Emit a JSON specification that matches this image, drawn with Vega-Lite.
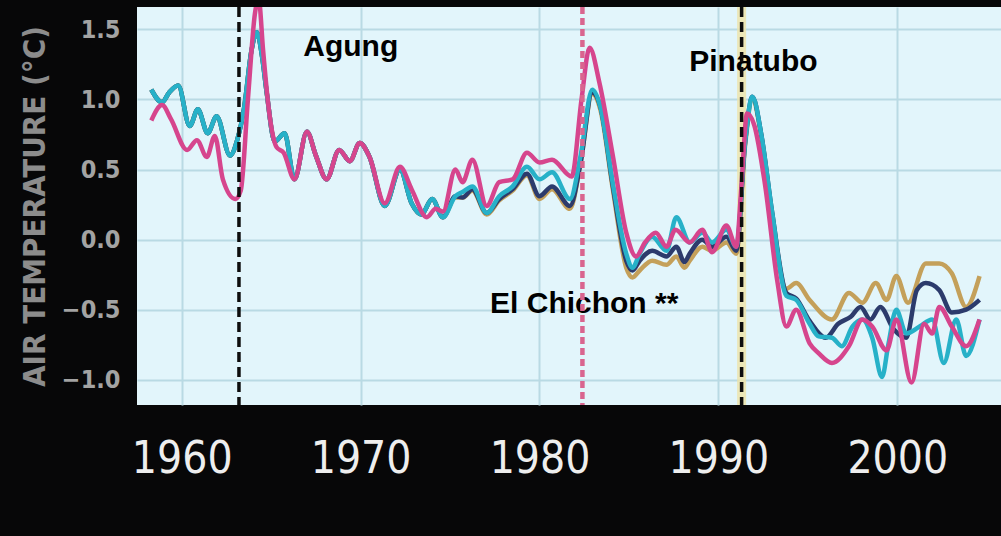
{
  "$schema": "https://vega.github.io/schema/vega-lite/v6.json",
  "width": 864,
  "height": 398,
  "autosize": {"type": "none"},
  "padding": {"left": 137, "top": 7, "right": 0, "bottom": 131},
  "background": "#070708",
  "view": {"fill": "#e2f5fb", "stroke": null},
  "config": {
    "axis": {"domain": false, "ticks": false, "grid": true, "gridColor": "#b9dae4", "gridWidth": 2, "gridOpacity": 1},
    "axisX": {"labelColor": "#eeeeee", "labelFont": "DejaVu Sans Condensed", "labelFontSize": 44, "labelPadding": 32, "labelFlush": false, "labelDx": -5},
    "axisY": {"labelColor": "#a3a3a3", "labelFont": "DejaVu Sans Condensed", "labelFontSize": 25, "labelFontWeight": "bold", "labelPadding": 17, "titleColor": "#8c8c8c", "titleFont": "DejaVu Sans Condensed", "titleFontSize": 31, "titleFontWeight": "bold", "titlePadding": 10}
  },
  "datasets": {
    "events": [
      {"volcano": "Agung", "year": 1963.2},
      {"volcano": "El Chichon", "year": 1982.4},
      {"volcano": "Pinatubo", "year": 1991.3}
    ],
    "notes": [
      {"label": "Agung", "year": 1969.45, "anomaly": 1.31},
      {"label": "Pinatubo", "year": 1991.96, "anomaly": 1.2},
      {"label": "El Chichon **", "year": 1982.5, "anomaly": -0.52}
    ],
    "temps": [
      {"series": "gold", "year": 1958.3, "anomaly": 1.07},
      {"series": "gold", "year": 1958.9, "anomaly": 0.98},
      {"series": "gold", "year": 1959.3, "anomaly": 1.05},
      {"series": "gold", "year": 1959.8, "anomaly": 1.1},
      {"series": "gold", "year": 1960.45, "anomaly": 0.81},
      {"series": "gold", "year": 1960.9, "anomaly": 0.93},
      {"series": "gold", "year": 1961.45, "anomaly": 0.76},
      {"series": "gold", "year": 1961.95, "anomaly": 0.88},
      {"series": "gold", "year": 1962.7, "anomaly": 0.6},
      {"series": "gold", "year": 1963.1, "anomaly": 0.71},
      {"series": "gold", "year": 1963.5, "anomaly": 0.95},
      {"series": "gold", "year": 1963.9, "anomaly": 1.35},
      {"series": "gold", "year": 1964.2, "anomaly": 1.48},
      {"series": "gold", "year": 1964.5, "anomaly": 1.3},
      {"series": "gold", "year": 1964.75, "anomaly": 1.05},
      {"series": "gold", "year": 1965.2, "anomaly": 0.7},
      {"series": "gold", "year": 1965.75, "anomaly": 0.76},
      {"series": "gold", "year": 1966.3, "anomaly": 0.43},
      {"series": "gold", "year": 1967.0, "anomaly": 0.77},
      {"series": "gold", "year": 1967.5, "anomaly": 0.6},
      {"series": "gold", "year": 1968.1, "anomaly": 0.43},
      {"series": "gold", "year": 1968.8, "anomaly": 0.64},
      {"series": "gold", "year": 1969.4, "anomaly": 0.56},
      {"series": "gold", "year": 1969.95, "anomaly": 0.69},
      {"series": "gold", "year": 1970.5, "anomaly": 0.59},
      {"series": "gold", "year": 1971.35, "anomaly": 0.24},
      {"series": "gold", "year": 1972.2, "anomaly": 0.5},
      {"series": "gold", "year": 1972.85, "anomaly": 0.26},
      {"series": "gold", "year": 1973.4, "anomaly": 0.18},
      {"series": "gold", "year": 1974.0, "anomaly": 0.29},
      {"series": "gold", "year": 1974.6, "anomaly": 0.16},
      {"series": "gold", "year": 1975.3, "anomaly": 0.3},
      {"series": "gold", "year": 1975.7, "anomaly": 0.3},
      {"series": "gold", "year": 1976.25, "anomaly": 0.35},
      {"series": "gold", "year": 1977.05, "anomaly": 0.18},
      {"series": "gold", "year": 1977.75, "anomaly": 0.28},
      {"series": "gold", "year": 1978.5, "anomaly": 0.35},
      {"series": "gold", "year": 1979.3, "anomaly": 0.46},
      {"series": "gold", "year": 1980.0, "anomaly": 0.29},
      {"series": "gold", "year": 1980.7, "anomaly": 0.36},
      {"series": "gold", "year": 1981.7, "anomaly": 0.22},
      {"series": "gold", "year": 1982.3, "anomaly": 0.55},
      {"series": "gold", "year": 1982.95, "anomaly": 1.04},
      {"series": "gold", "year": 1983.4, "anomaly": 0.93},
      {"series": "gold", "year": 1984.1, "anomaly": 0.36},
      {"series": "gold", "year": 1984.85, "anomaly": -0.2},
      {"series": "gold", "year": 1985.2, "anomaly": -0.27},
      {"series": "gold", "year": 1985.6, "anomaly": -0.22},
      {"series": "gold", "year": 1986.3, "anomaly": -0.15},
      {"series": "gold", "year": 1987.1, "anomaly": -0.18},
      {"series": "gold", "year": 1987.65, "anomaly": -0.12},
      {"series": "gold", "year": 1988.1, "anomaly": -0.2},
      {"series": "gold", "year": 1988.4, "anomaly": -0.15},
      {"series": "gold", "year": 1989.1, "anomaly": -0.05},
      {"series": "gold", "year": 1989.65, "anomaly": -0.08},
      {"series": "gold", "year": 1990.45, "anomaly": -0.02},
      {"series": "gold", "year": 1991.0, "anomaly": -0.1},
      {"series": "gold", "year": 1991.5, "anomaly": 0.68},
      {"series": "gold", "year": 1991.9, "anomaly": 1.0},
      {"series": "gold", "year": 1992.4, "anomaly": 0.74},
      {"series": "gold", "year": 1993.0, "anomaly": 0.18},
      {"series": "gold", "year": 1993.8, "anomaly": -0.35},
      {"series": "gold", "year": 1994.35, "anomaly": -0.31},
      {"series": "gold", "year": 1995.1, "anomaly": -0.43},
      {"series": "gold", "year": 1996.35, "anomaly": -0.57},
      {"series": "gold", "year": 1997.3, "anomaly": -0.38},
      {"series": "gold", "year": 1998.05, "anomaly": -0.45},
      {"series": "gold", "year": 1998.8, "anomaly": -0.31},
      {"series": "gold", "year": 1999.4, "anomaly": -0.43},
      {"series": "gold", "year": 1999.95, "anomaly": -0.26},
      {"series": "gold", "year": 2000.6, "anomaly": -0.45},
      {"series": "gold", "year": 2001.6, "anomaly": -0.17},
      {"series": "gold", "year": 2002.35, "anomaly": -0.17},
      {"series": "gold", "year": 2003.05, "anomaly": -0.24},
      {"series": "gold", "year": 2003.85, "anomaly": -0.48},
      {"series": "gold", "year": 2004.6, "anomaly": -0.26},

      {"series": "navy", "year": 1958.3, "anomaly": 1.07},
      {"series": "navy", "year": 1958.9, "anomaly": 0.98},
      {"series": "navy", "year": 1959.3, "anomaly": 1.05},
      {"series": "navy", "year": 1959.8, "anomaly": 1.1},
      {"series": "navy", "year": 1960.45, "anomaly": 0.81},
      {"series": "navy", "year": 1960.9, "anomaly": 0.93},
      {"series": "navy", "year": 1961.45, "anomaly": 0.76},
      {"series": "navy", "year": 1961.95, "anomaly": 0.88},
      {"series": "navy", "year": 1962.7, "anomaly": 0.6},
      {"series": "navy", "year": 1963.1, "anomaly": 0.71},
      {"series": "navy", "year": 1963.5, "anomaly": 0.95},
      {"series": "navy", "year": 1963.9, "anomaly": 1.35},
      {"series": "navy", "year": 1964.2, "anomaly": 1.48},
      {"series": "navy", "year": 1964.5, "anomaly": 1.3},
      {"series": "navy", "year": 1964.75, "anomaly": 1.05},
      {"series": "navy", "year": 1965.2, "anomaly": 0.7},
      {"series": "navy", "year": 1965.75, "anomaly": 0.76},
      {"series": "navy", "year": 1966.3, "anomaly": 0.43},
      {"series": "navy", "year": 1967.0, "anomaly": 0.77},
      {"series": "navy", "year": 1967.5, "anomaly": 0.6},
      {"series": "navy", "year": 1968.1, "anomaly": 0.43},
      {"series": "navy", "year": 1968.8, "anomaly": 0.64},
      {"series": "navy", "year": 1969.4, "anomaly": 0.56},
      {"series": "navy", "year": 1969.95, "anomaly": 0.69},
      {"series": "navy", "year": 1970.5, "anomaly": 0.59},
      {"series": "navy", "year": 1971.35, "anomaly": 0.24},
      {"series": "navy", "year": 1972.2, "anomaly": 0.5},
      {"series": "navy", "year": 1972.85, "anomaly": 0.26},
      {"series": "navy", "year": 1973.4, "anomaly": 0.18},
      {"series": "navy", "year": 1974.0, "anomaly": 0.29},
      {"series": "navy", "year": 1974.6, "anomaly": 0.16},
      {"series": "navy", "year": 1975.3, "anomaly": 0.31},
      {"series": "navy", "year": 1975.7, "anomaly": 0.3},
      {"series": "navy", "year": 1976.25, "anomaly": 0.36},
      {"series": "navy", "year": 1977.05, "anomaly": 0.19},
      {"series": "navy", "year": 1977.75, "anomaly": 0.29},
      {"series": "navy", "year": 1978.5, "anomaly": 0.36},
      {"series": "navy", "year": 1979.3, "anomaly": 0.47},
      {"series": "navy", "year": 1980.0, "anomaly": 0.31},
      {"series": "navy", "year": 1980.7, "anomaly": 0.38},
      {"series": "navy", "year": 1981.7, "anomaly": 0.24},
      {"series": "navy", "year": 1982.3, "anomaly": 0.55},
      {"series": "navy", "year": 1982.95, "anomaly": 1.05},
      {"series": "navy", "year": 1983.4, "anomaly": 0.95},
      {"series": "navy", "year": 1984.1, "anomaly": 0.38},
      {"series": "navy", "year": 1984.85, "anomaly": -0.15},
      {"series": "navy", "year": 1985.2, "anomaly": -0.22},
      {"series": "navy", "year": 1985.6, "anomaly": -0.15},
      {"series": "navy", "year": 1986.3, "anomaly": -0.08},
      {"series": "navy", "year": 1987.1, "anomaly": -0.12},
      {"series": "navy", "year": 1987.65, "anomaly": -0.05},
      {"series": "navy", "year": 1988.1, "anomaly": -0.16},
      {"series": "navy", "year": 1988.4, "anomaly": -0.1},
      {"series": "navy", "year": 1989.1, "anomaly": 0.0},
      {"series": "navy", "year": 1989.65, "anomaly": -0.05},
      {"series": "navy", "year": 1990.45, "anomaly": 0.02},
      {"series": "navy", "year": 1991.0, "anomaly": -0.08},
      {"series": "navy", "year": 1991.5, "anomaly": 0.7},
      {"series": "navy", "year": 1991.9, "anomaly": 1.02},
      {"series": "navy", "year": 1992.4, "anomaly": 0.75},
      {"series": "navy", "year": 1993.0, "anomaly": 0.2},
      {"series": "navy", "year": 1993.8, "anomaly": -0.38},
      {"series": "navy", "year": 1994.35, "anomaly": -0.42},
      {"series": "navy", "year": 1995.1, "anomaly": -0.58},
      {"series": "navy", "year": 1996.0, "anomaly": -0.7},
      {"series": "navy", "year": 1996.7, "anomaly": -0.6},
      {"series": "navy", "year": 1997.4, "anomaly": -0.55},
      {"series": "navy", "year": 1997.95, "anomaly": -0.48},
      {"series": "navy", "year": 1998.5, "anomaly": -0.57},
      {"series": "navy", "year": 1999.05, "anomaly": -0.48},
      {"series": "navy", "year": 1999.8, "anomaly": -0.64},
      {"series": "navy", "year": 2000.5, "anomaly": -0.7},
      {"series": "navy", "year": 2001.1, "anomaly": -0.36},
      {"series": "navy", "year": 2001.6, "anomaly": -0.31},
      {"series": "navy", "year": 2002.35, "anomaly": -0.36},
      {"series": "navy", "year": 2003.05, "anomaly": -0.52},
      {"series": "navy", "year": 2003.85, "anomaly": -0.5},
      {"series": "navy", "year": 2004.6, "anomaly": -0.43},

      {"series": "cyan", "year": 1958.3, "anomaly": 1.07},
      {"series": "cyan", "year": 1958.9, "anomaly": 0.98},
      {"series": "cyan", "year": 1959.3, "anomaly": 1.05},
      {"series": "cyan", "year": 1959.8, "anomaly": 1.1},
      {"series": "cyan", "year": 1960.45, "anomaly": 0.81},
      {"series": "cyan", "year": 1960.9, "anomaly": 0.93},
      {"series": "cyan", "year": 1961.45, "anomaly": 0.76},
      {"series": "cyan", "year": 1961.95, "anomaly": 0.88},
      {"series": "cyan", "year": 1962.7, "anomaly": 0.6},
      {"series": "cyan", "year": 1963.1, "anomaly": 0.71},
      {"series": "cyan", "year": 1963.5, "anomaly": 0.95},
      {"series": "cyan", "year": 1963.9, "anomaly": 1.35},
      {"series": "cyan", "year": 1964.2, "anomaly": 1.48},
      {"series": "cyan", "year": 1964.5, "anomaly": 1.3},
      {"series": "cyan", "year": 1964.75, "anomaly": 1.05},
      {"series": "cyan", "year": 1965.2, "anomaly": 0.7},
      {"series": "cyan", "year": 1965.75, "anomaly": 0.76},
      {"series": "cyan", "year": 1966.3, "anomaly": 0.43},
      {"series": "cyan", "year": 1967.0, "anomaly": 0.77},
      {"series": "cyan", "year": 1967.5, "anomaly": 0.6},
      {"series": "cyan", "year": 1968.1, "anomaly": 0.43},
      {"series": "cyan", "year": 1968.8, "anomaly": 0.64},
      {"series": "cyan", "year": 1969.4, "anomaly": 0.56},
      {"series": "cyan", "year": 1969.95, "anomaly": 0.69},
      {"series": "cyan", "year": 1970.5, "anomaly": 0.59},
      {"series": "cyan", "year": 1971.35, "anomaly": 0.24},
      {"series": "cyan", "year": 1972.2, "anomaly": 0.5},
      {"series": "cyan", "year": 1972.85, "anomaly": 0.26},
      {"series": "cyan", "year": 1973.4, "anomaly": 0.18},
      {"series": "cyan", "year": 1974.0, "anomaly": 0.29},
      {"series": "cyan", "year": 1974.6, "anomaly": 0.16},
      {"series": "cyan", "year": 1975.3, "anomaly": 0.31},
      {"series": "cyan", "year": 1975.7, "anomaly": 0.34},
      {"series": "cyan", "year": 1976.25, "anomaly": 0.38},
      {"series": "cyan", "year": 1977.05, "anomaly": 0.19},
      {"series": "cyan", "year": 1977.75, "anomaly": 0.31},
      {"series": "cyan", "year": 1978.5, "anomaly": 0.38},
      {"series": "cyan", "year": 1979.3, "anomaly": 0.52},
      {"series": "cyan", "year": 1980.0, "anomaly": 0.43},
      {"series": "cyan", "year": 1980.7, "anomaly": 0.48},
      {"series": "cyan", "year": 1981.7, "anomaly": 0.29},
      {"series": "cyan", "year": 1982.3, "anomaly": 0.6},
      {"series": "cyan", "year": 1982.95, "anomaly": 1.07},
      {"series": "cyan", "year": 1983.4, "anomaly": 0.95},
      {"series": "cyan", "year": 1984.1, "anomaly": 0.4},
      {"series": "cyan", "year": 1984.85, "anomaly": -0.1},
      {"series": "cyan", "year": 1985.2, "anomaly": -0.2},
      {"series": "cyan", "year": 1985.6, "anomaly": -0.1},
      {"series": "cyan", "year": 1986.3, "anomaly": 0.02},
      {"series": "cyan", "year": 1987.1, "anomaly": -0.08},
      {"series": "cyan", "year": 1987.65, "anomaly": 0.16},
      {"series": "cyan", "year": 1988.4, "anomaly": -0.02},
      {"series": "cyan", "year": 1989.1, "anomaly": 0.05},
      {"series": "cyan", "year": 1989.65, "anomaly": -0.02},
      {"series": "cyan", "year": 1990.45, "anomaly": 0.07},
      {"series": "cyan", "year": 1991.0, "anomaly": -0.05},
      {"series": "cyan", "year": 1991.5, "anomaly": 0.7},
      {"series": "cyan", "year": 1991.9, "anomaly": 1.02},
      {"series": "cyan", "year": 1992.4, "anomaly": 0.75},
      {"series": "cyan", "year": 1993.0, "anomaly": 0.2},
      {"series": "cyan", "year": 1993.8, "anomaly": -0.4},
      {"series": "cyan", "year": 1994.35, "anomaly": -0.43},
      {"series": "cyan", "year": 1995.1, "anomaly": -0.6},
      {"series": "cyan", "year": 1995.6, "anomaly": -0.69},
      {"series": "cyan", "year": 1996.35, "anomaly": -0.7},
      {"series": "cyan", "year": 1996.9, "anomaly": -0.76},
      {"series": "cyan", "year": 1997.5, "anomaly": -0.62},
      {"series": "cyan", "year": 1998.05, "anomaly": -0.57},
      {"series": "cyan", "year": 1998.6, "anomaly": -0.7},
      {"series": "cyan", "year": 1999.15, "anomaly": -0.98},
      {"series": "cyan", "year": 1999.5, "anomaly": -0.75},
      {"series": "cyan", "year": 1999.95, "anomaly": -0.5},
      {"series": "cyan", "year": 2000.5, "anomaly": -0.67},
      {"series": "cyan", "year": 2001.25, "anomaly": -0.62},
      {"series": "cyan", "year": 2001.95, "anomaly": -0.57},
      {"series": "cyan", "year": 2002.6, "anomaly": -0.88},
      {"series": "cyan", "year": 2003.3, "anomaly": -0.57},
      {"series": "cyan", "year": 2003.85, "anomaly": -0.83},
      {"series": "cyan", "year": 2004.6, "anomaly": -0.57},

      {"series": "pink", "year": 1958.3, "anomaly": 0.85},
      {"series": "pink", "year": 1958.9, "anomaly": 0.96},
      {"series": "pink", "year": 1959.4, "anomaly": 0.86},
      {"series": "pink", "year": 1960.3, "anomaly": 0.64},
      {"series": "pink", "year": 1960.85, "anomaly": 0.71},
      {"series": "pink", "year": 1961.4, "anomaly": 0.59},
      {"series": "pink", "year": 1961.85, "anomaly": 0.74},
      {"series": "pink", "year": 1962.3, "anomaly": 0.43},
      {"series": "pink", "year": 1963.0, "anomaly": 0.29},
      {"series": "pink", "year": 1963.3, "anomaly": 0.35},
      {"series": "pink", "year": 1963.7, "anomaly": 1.0},
      {"series": "pink", "year": 1964.1, "anomaly": 1.62},
      {"series": "pink", "year": 1964.3, "anomaly": 1.72},
      {"series": "pink", "year": 1964.55, "anomaly": 1.35},
      {"series": "pink", "year": 1964.85, "anomaly": 0.95},
      {"series": "pink", "year": 1965.3, "anomaly": 0.66},
      {"series": "pink", "year": 1965.7, "anomaly": 0.62},
      {"series": "pink", "year": 1966.3, "anomaly": 0.43},
      {"series": "pink", "year": 1967.0, "anomaly": 0.77},
      {"series": "pink", "year": 1967.5, "anomaly": 0.6},
      {"series": "pink", "year": 1968.1, "anomaly": 0.43},
      {"series": "pink", "year": 1968.8, "anomaly": 0.64},
      {"series": "pink", "year": 1969.4, "anomaly": 0.56},
      {"series": "pink", "year": 1969.95, "anomaly": 0.69},
      {"series": "pink", "year": 1970.5, "anomaly": 0.59},
      {"series": "pink", "year": 1971.35, "anomaly": 0.26},
      {"series": "pink", "year": 1972.2, "anomaly": 0.52},
      {"series": "pink", "year": 1972.85, "anomaly": 0.36},
      {"series": "pink", "year": 1973.7, "anomaly": 0.16},
      {"series": "pink", "year": 1974.2, "anomaly": 0.22},
      {"series": "pink", "year": 1974.6, "anomaly": 0.2},
      {"series": "pink", "year": 1975.3, "anomaly": 0.5},
      {"series": "pink", "year": 1975.7, "anomaly": 0.41},
      {"series": "pink", "year": 1976.25, "anomaly": 0.57},
      {"series": "pink", "year": 1977.05, "anomaly": 0.24},
      {"series": "pink", "year": 1977.75, "anomaly": 0.41},
      {"series": "pink", "year": 1978.5, "anomaly": 0.43},
      {"series": "pink", "year": 1979.3, "anomaly": 0.62},
      {"series": "pink", "year": 1980.0, "anomaly": 0.55},
      {"series": "pink", "year": 1980.7, "anomaly": 0.57},
      {"series": "pink", "year": 1981.8, "anomaly": 0.45},
      {"series": "pink", "year": 1982.35, "anomaly": 1.0},
      {"series": "pink", "year": 1982.8, "anomaly": 1.37},
      {"series": "pink", "year": 1983.35, "anomaly": 1.12},
      {"series": "pink", "year": 1984.1, "anomaly": 0.6},
      {"series": "pink", "year": 1984.85, "anomaly": 0.05},
      {"series": "pink", "year": 1985.4, "anomaly": -0.12},
      {"series": "pink", "year": 1985.9, "anomaly": -0.02},
      {"series": "pink", "year": 1986.5, "anomaly": 0.05},
      {"series": "pink", "year": 1987.1, "anomaly": -0.05},
      {"series": "pink", "year": 1987.6, "anomaly": 0.07},
      {"series": "pink", "year": 1988.4, "anomaly": -0.02},
      {"series": "pink", "year": 1989.1, "anomaly": 0.07},
      {"series": "pink", "year": 1989.65, "anomaly": -0.09},
      {"series": "pink", "year": 1990.45, "anomaly": 0.1},
      {"series": "pink", "year": 1991.0, "anomaly": -0.05},
      {"series": "pink", "year": 1991.3, "anomaly": 0.4},
      {"series": "pink", "year": 1991.6, "anomaly": 0.9},
      {"series": "pink", "year": 1992.0, "anomaly": 0.82},
      {"series": "pink", "year": 1992.6, "anomaly": 0.4},
      {"series": "pink", "year": 1993.3, "anomaly": -0.3},
      {"series": "pink", "year": 1993.8, "anomaly": -0.62},
      {"series": "pink", "year": 1994.35, "anomaly": -0.5},
      {"series": "pink", "year": 1995.1, "anomaly": -0.74},
      {"series": "pink", "year": 1995.6, "anomaly": -0.81},
      {"series": "pink", "year": 1996.35, "anomaly": -0.88},
      {"series": "pink", "year": 1997.3, "anomaly": -0.76},
      {"series": "pink", "year": 1998.05, "anomaly": -0.57},
      {"series": "pink", "year": 1998.6, "anomaly": -0.62},
      {"series": "pink", "year": 1999.4, "anomaly": -0.79},
      {"series": "pink", "year": 1999.95, "anomaly": -0.57},
      {"series": "pink", "year": 2000.8, "anomaly": -1.02},
      {"series": "pink", "year": 2001.5, "anomaly": -0.6},
      {"series": "pink", "year": 2001.95, "anomaly": -0.67},
      {"series": "pink", "year": 2002.35, "anomaly": -0.48},
      {"series": "pink", "year": 2003.05, "anomaly": -0.62},
      {"series": "pink", "year": 2003.85, "anomaly": -0.76},
      {"series": "pink", "year": 2004.6, "anomaly": -0.57}
    ]
  },
  "layer": [
    {
      "data": {"name": "events"},
      "transform": [{"filter": "datum.volcano == 'Pinatubo'"}],
      "mark": {"type": "rule", "color": "#efe4a8", "strokeWidth": 9, "opacity": 0.8},
      "encoding": {
        "x": {"field": "year", "type": "quantitative", "scale": {"domain": [1957.5, 2005.8], "nice": false, "zero": false}, "axis": {"values": [1960, 1970, 1980, 1990, 2000], "format": "d", "title": null}}
      }
    },
    {
      "data": {"name": "temps"},
      "encoding": {
        "x": {"field": "year", "type": "quantitative", "scale": {"domain": [1957.5, 2005.8], "nice": false, "zero": false}, "axis": {"values": [1960, 1970, 1980, 1990, 2000], "format": "d", "title": null}},
        "y": {"field": "anomaly", "type": "quantitative", "scale": {"domain": [-1.18, 1.66], "nice": false, "zero": false}, "axis": {"values": [-1, -0.5, 0, 0.5, 1, 1.5], "format": ".1f", "title": "AIR TEMPERATURE (°C)"}}
      },
      "layer": [
        {"transform": [{"filter": "datum.series == 'gold'"}], "mark": {"type": "line", "color": "#c4a05a", "strokeWidth": 4.5, "interpolate": "monotone", "clip": true, "strokeJoin": "round"}},
        {"transform": [{"filter": "datum.series == 'navy'"}], "mark": {"type": "line", "color": "#2c3b6c", "strokeWidth": 4.5, "interpolate": "monotone", "clip": true, "strokeJoin": "round"}},
        {"transform": [{"filter": "datum.series == 'cyan'"}], "mark": {"type": "line", "color": "#27b1c8", "strokeWidth": 4.5, "interpolate": "monotone", "clip": true, "strokeJoin": "round"}},
        {"transform": [{"filter": "datum.series == 'pink'"}], "mark": {"type": "line", "color": "#d6458d", "strokeWidth": 4.5, "interpolate": "monotone", "clip": true, "strokeJoin": "round"}}
      ]
    },
    {
      "data": {"name": "notes"},
      "mark": {"type": "text", "font": "Liberation Sans", "fontWeight": "bold", "fontSize": 30, "color": "#000000", "align": "center", "baseline": "alphabetic"},
      "encoding": {
        "x": {"field": "year", "type": "quantitative", "scale": {"domain": [1957.5, 2005.8], "nice": false, "zero": false}, "axis": {"values": [1960, 1970, 1980, 1990, 2000], "format": "d", "title": null}},
        "y": {"field": "anomaly", "type": "quantitative", "scale": {"domain": [-1.18, 1.66], "nice": false, "zero": false}, "axis": {"values": [-1, -0.5, 0, 0.5, 1, 1.5], "format": ".1f", "title": "AIR TEMPERATURE (°C)"}},
        "text": {"field": "label"}
      }
    },
    {
      "data": {"name": "events"},
      "transform": [{"filter": "datum.volcano == 'El Chichon'"}],
      "mark": {"type": "rule", "color": "#d9658f", "strokeWidth": 4.5, "strokeDash": [7, 4]},
      "encoding": {
        "x": {"field": "year", "type": "quantitative", "scale": {"domain": [1957.5, 2005.8], "nice": false, "zero": false}, "axis": {"values": [1960, 1970, 1980, 1990, 2000], "format": "d", "title": null}}
      }
    },
    {
      "data": {"name": "events"},
      "transform": [{"filter": "datum.volcano != 'El Chichon'"}],
      "mark": {"type": "rule", "color": "#0d0d0d", "strokeWidth": 3.5, "strokeDash": [10, 5]},
      "encoding": {
        "x": {"field": "year", "type": "quantitative", "scale": {"domain": [1957.5, 2005.8], "nice": false, "zero": false}, "axis": {"values": [1960, 1970, 1980, 1990, 2000], "format": "d", "title": null}}
      }
    }
  ]
}
